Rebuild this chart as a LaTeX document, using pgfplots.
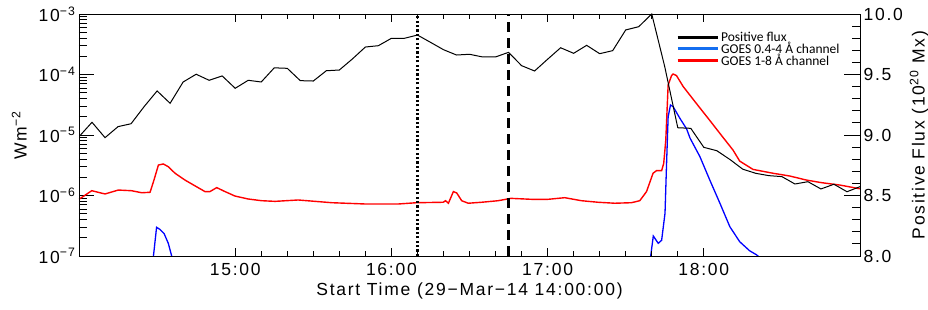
\documentclass[border=0pt]{standalone}
\usepackage{pgfplots}
\pgfplotsset{compat=1.18}
\usepackage{fontspec}
\setmainfont{Liberation Sans}[LetterSpace=10]
\newfontfamily\legfont{Carlito}
\definecolor{legblue}{RGB}{20,110,240}

\pgfplotstableread{
t v
0 8.986
5 9.105
10 8.978
15 9.069
20 9.093
25 9.234
30 9.364
35 9.262
40 9.438
45 9.502
50 9.452
55 9.488
60 9.386
65 9.452
70 9.438
75 9.555
80 9.551
85 9.449
90 9.446
95 9.531
100 9.537
105 9.628
110 9.727
115 9.738
120 9.799
125 9.799
130 9.826
135 9.766
140 9.705
145 9.661
150 9.667
155 9.645
160 9.645
165 9.683
170 9.573
175 9.529
180 9.626
185 9.721
190 9.675
195 9.741
200 9.672
205 9.697
210 9.868
215 9.895
220 10.0
225 9.564
230 9.060
235 9.055
240 8.898
245 8.870
250 8.798
255 8.717
260 8.683
265 8.664
270 8.656
275 8.595
280 8.614
285 8.554
290 8.593
295 8.531
300 8.573
}\posflux

\pgfplotstableread{
t f
0 8.65e-7
4.9 1.20e-6
10.0 1.06e-6
15.1 1.23e-6
20.2 1.20e-6
24.1 1.11e-6
27.3 1.13e-6
28.8 1.80e-6
30.5 3.19e-6
32.4 3.32e-6
34.3 2.99e-6
36.9 2.33e-6
40.7 1.80e-6
44.6 1.44e-6
48.4 1.16e-6
50.3 1.16e-6
52.9 1.35e-6
56.1 1.16e-6
59.9 9.8e-7
65.0 8.75e-7
70.2 8.2e-7
75.3 8.0e-7
84.2 8.43e-7
97.1 7.6e-7
109.9 7.24e-7
122.7 7.24e-7
129.7 7.6e-7
139.9 7.73e-7
140.8 8.2e-7
141.9 7.45e-7
143.8 1.16e-6
145.1 1.10e-6
147.0 8.2e-7
149.5 7.45e-7
154.6 7.73e-7
161.0 8.2e-7
165.9 8.97e-7
173.8 8.65e-7
180.2 8.65e-7
186.6 9.2e-7
193.0 8.2e-7
199.4 7.73e-7
205.8 7.45e-7
212.2 7.6e-7
215.4 8.2e-7
218.0 1.16e-6
220.5 2.33e-6
221.8 2.57e-6
223.8 2.57e-6
224.6 3.40e-6
225.4 8.26e-6
226.3 6.70e-5
227.6 9.55e-5
228.2 1.02e-4
229.5 9.6e-5
232.1 6.3e-5
237.2 3.3e-5
242.3 1.74e-5
247.4 9.1e-6
251.2 5.65e-6
253.8 3.7e-6
258.9 2.7e-6
266.6 2.33e-6
273.0 2.10e-6
279.4 1.80e-6
285.2 1.63e-6
292.2 1.49e-6
300 1.29e-6
}\goeslong

\pgfplotstableread{
t f
28.3 9.0e-8
28.6 1.0e-7
29.8 2.98e-7
31.1 2.75e-7
32.7 2.34e-7
34.3 1.62e-7
35.6 1.0e-7
36.0 9.0e-8
}\goesshortA

\pgfplotstableread{
t f
219.0 9.0e-8
219.6 1.0e-7
220.6 2.14e-7
222.5 1.62e-7
223.8 1.82e-7
225.1 5.08e-7
225.7 3.40e-6
226.3 2.0e-5
227.2 3.13e-5
228.2 2.95e-5
230.8 1.89e-5
233.4 1.26e-5
234.7 8.9e-6
238.5 4.39e-6
242.3 1.80e-6
246.2 7.43e-7
250.0 3.05e-7
253.8 1.72e-7
257.6 1.22e-7
260.2 1.05e-7
262.0 9.0e-8
}\goesshortB

\pgfplotsset{
  base/.style={width=781pt, height=242pt, scale only axis, xmin=0, xmax=300,
    axis line style={black, line width=0.9pt},
    tick style={black, line width=0.8pt}, tick align=inside,
    every tick label/.append style={font=\fontsize{17.5}{20}\selectfont},
    label style={font=\fontsize{17.5}{20}\selectfont}},
}

\begin{document}
\begin{tikzpicture}
% left log axis with GOES curves
\begin{axis}[base, name=main,
  ymode=log, ymin=1e-7, ymax=1e-3,
  xtick=\empty,
  ytick={1e-7,1e-6,1e-5,1e-4,1e-3},
  yticklabels={10\textsuperscript{−7},10\textsuperscript{−6},10\textsuperscript{−5},10\textsuperscript{−4},10\textsuperscript{−3}},
  minor ytick={2e-7,3e-7,4e-7,5e-7,6e-7,7e-7,8e-7,9e-7,2e-6,3e-6,4e-6,5e-6,6e-6,7e-6,8e-6,9e-6,2e-5,3e-5,4e-5,5e-5,6e-5,7e-5,8e-5,9e-5,2e-4,3e-4,4e-4,5e-4,6e-4,7e-4,8e-4,9e-4},
  ytick pos=left,
  major tick length=15pt, minor tick length=8pt,
  ylabel={Wm\textsuperscript{−2}},
  ylabel style={yshift=5pt},
]
\addplot[red, line width=1.4pt] table[x=t, y=f] {\goeslong};
\addplot[blue, line width=1.3pt] table[x=t, y=f] {\goesshortA};
\addplot[blue, line width=1.3pt] table[x=t, y=f] {\goesshortB};
\end{axis}
% x axis ticks
\begin{axis}[base,
  ymin=0, ymax=1, ytick=\empty,
  xtick={60,120,180,240}, xticklabels={15:00,16:00,17:00,18:00},
  minor x tick num=5, xtick pos=both, xticklabel pos=bottom,
  major tick length=8pt, minor tick length=5pt,
  xlabel={Start Time (29−Mar−14 14:00:00)},
  xticklabel style={yshift=-4pt},
  xlabel style={yshift=0pt},
]
\end{axis}
% right linear axis with positive flux
\begin{axis}[base,
  ymin=8, ymax=10, xtick=\empty,
  ytick={8,8.5,9,9.5,10}, yticklabels={8.0,8.5,9.0,9.5,10.0},
  minor y tick num=4,
  ytick pos=right, yticklabel pos=right,
  major tick length=16pt, minor tick length=8pt,
  ylabel={Positive Flux  (10\textsuperscript{20} Mx)},
  legend style={at={(axis description cs:0.763,0.94)}, anchor=north west,
    draw=none, fill=none, font=\legfont\fontsize{13.5}{14}\selectfont,
    row sep=-4.8pt, inner sep=1pt},
  legend cell align=left,
  legend image code/.code={\draw[#1, line width=3pt] (0pt,0pt) -- (40pt,0pt);},
]
\addplot[black, line width=1pt] table[x=t, y=v] {\posflux};
\addlegendentry{Positive flux}
\addlegendimage{legblue}
\addlegendentry{GOES 0.4-4 Å channel}
\addlegendimage{red}
\addlegendentry{GOES 1-8 Å channel}
\addplot[black, line width=2.4pt, dash pattern=on 2.2pt off 2.2pt, forget plot] coordinates {(130,8) (130,10)};
\addplot[black, line width=2.4pt, dash pattern=on 10pt off 6pt, forget plot] coordinates {(165,8) (165,10)};
\end{axis}
\pgfresetboundingbox
\path[use as bounding box] ([xshift=-79pt,yshift=-54pt]main.south west) rectangle ([xshift=68pt,yshift=14pt]main.north east);
\end{tikzpicture}
\end{document}
